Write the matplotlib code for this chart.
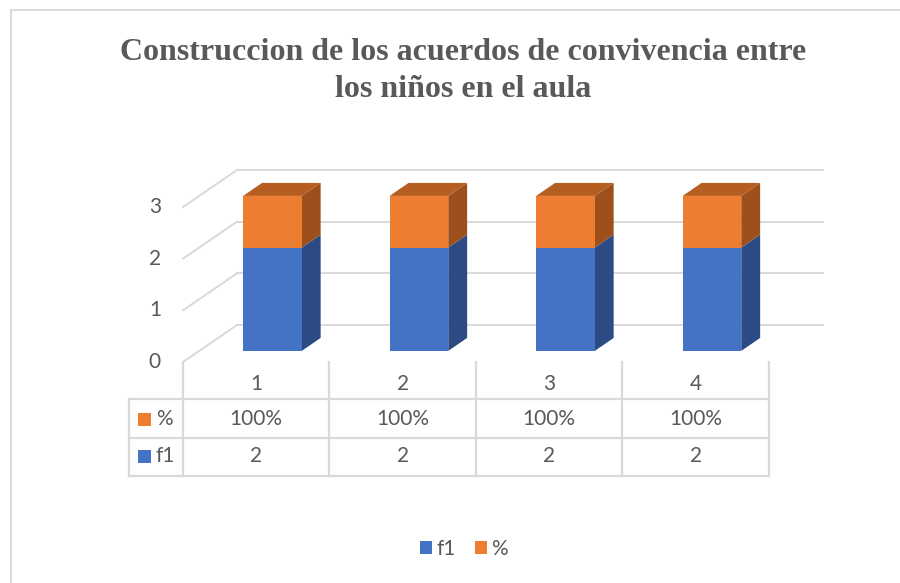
import matplotlib
matplotlib.use("Agg")
import matplotlib.pyplot as plt
from matplotlib.patches import Polygon, Rectangle, Patch

# ---- data ----
categories = ["1", "2", "3", "4"]
f1_values = [2, 2, 2, 2]
pct_values = [1, 1, 1, 1]
pct_labels = ["100%", "100%", "100%", "100%"]
series_names = ["f1", "%"]
y_ticks = [0, 1, 2, 3]
title = "Construccion de los acuerdos de convivencia entre\nlos niños en el aula"

# ---- style ----
BLUE, BLUE_SIDE, BLUE_TOP = "#4472C4", "#2C4B84", "#3A62AA"
ORANGE, ORANGE_SIDE, ORANGE_TOP = "#ED7D31", "#9E501C", "#B65E21"
GRID = "#D9D9D9"
TXT = "#595959"
FS = 15
plt.rcParams["font.family"] = ["Lato", "DejaVu Sans"]

W, H, DPI = 900, 583, 100
fig = plt.figure(figsize=(W / DPI, H / DPI), dpi=DPI)
ax = fig.add_axes([0, 0, 1, 1])
px_x = 146.5   # px per category
px_y = 51.67   # px per unit
x0_px, y0_px = 183, 362
ax.set_xlim(0.5 - x0_px / px_x, 0.5 + (W - x0_px) / px_x)
ax.set_ylim(-(H - y0_px) / px_y, y0_px / px_y)
ax.axis("off")

ox, oy = 54 / px_x, 37 / px_y
n = len(categories)
xl, xr = 0.5, n + 0.5

# chart area border
bx = 0.5 - x0_px / px_x + 11 / px_x
by = y0_px / px_y - 10 / px_y
ax.plot([bx, bx], [-5, by], color=GRID, lw=1.5, zorder=1)
ax.plot([bx, 6], [by, by], color=GRID, lw=1.5, zorder=1)

# back wall gridlines + left wall diagonals
for t in y_ticks:
    ax.plot([xl + ox, xr + ox], [t + oy, t + oy], color=GRID, lw=1.4, zorder=2)
    ax.plot([xl, xl + ox], [t, t + oy], color=GRID, lw=1.4, zorder=2)
    ax.text(xl - 22 / px_x, t, str(t), ha="right", va="center", fontsize=FS, color=TXT)

w = 0.2
z0, z1 = 0.30, 0.65


def box(xc, yb, yt, front, side, top, draw_top):
    fx = xc - w + z0 * ox
    fy = z0 * oy
    dx, dy = (z1 - z0) * ox, (z1 - z0) * oy
    ax.add_patch(Polygon([(fx + 2 * w, yb + fy), (fx + 2 * w + dx, yb + fy + dy),
                          (fx + 2 * w + dx, yt + fy + dy), (fx + 2 * w, yt + fy)],
                         closed=True, facecolor=side, edgecolor="none", zorder=5))
    ax.add_patch(Rectangle((fx, yb + fy), 2 * w, yt - yb, facecolor=front,
                           edgecolor="none", zorder=6))
    if draw_top:
        ax.add_patch(Polygon([(fx, yt + fy), (fx + 2 * w, yt + fy),
                              (fx + 2 * w + dx, yt + fy + dy), (fx + dx, yt + fy + dy)],
                             closed=True, facecolor=top, edgecolor="none", zorder=6))


for i in range(n):
    xc = i + 1
    box(xc, 0, f1_values[i], BLUE, BLUE_SIDE, BLUE_TOP, False)
    box(xc, f1_values[i], f1_values[i] + pct_values[i], ORANGE, ORANGE_SIDE, ORANGE_TOP, True)

# data table
r0 = 0
r1 = -(399 - y0_px) / px_y
r2 = -(437.5 - y0_px) / px_y
r3 = -(475.5 - y0_px) / px_y
xlab = xl - 54 / px_x
lw_t = 1.6
for k in range(n + 1):
    ax.plot([xl + k, xl + k], [r0, r3], color=GRID, lw=lw_t, zorder=2)
ax.plot([xlab, xlab], [r1, r3], color=GRID, lw=lw_t, zorder=2)
for r in (r1, r2, r3):
    ax.plot([xlab, xr], [r, r], color=GRID, lw=lw_t, zorder=2)

hy = -(384 - y0_px) / px_y
py = -(419 - y0_px) / px_y
fy_ = -(456.5 - y0_px) / px_y
for i in range(n):
    ax.text(i + 1, hy, categories[i], ha="center", va="center", fontsize=FS, color=TXT)
    ax.text(i + 1, py, pct_labels[i], ha="center", va="center", fontsize=FS, color=TXT)
    ax.text(i + 1, fy_, str(f1_values[i]), ha="center", va="center", fontsize=FS, color=TXT)

sq = 13
for yy, col, name in ((py, ORANGE, series_names[1]), (fy_, BLUE, series_names[0])):
    ax.add_patch(Rectangle((xlab + 9 / px_x, yy - sq / 2 / px_y), sq / px_x, sq / px_y,
                           facecolor=col, edgecolor="none", zorder=3))
    ax.text(xlab + 27 / px_x, yy, name, ha="left", va="center", fontsize=FS, color=TXT)

# title
fig.text(463 / W, 1 - 71 / H, title, ha="center", va="center", fontsize=23,
         fontweight="bold", family="Liberation Serif", color=TXT, linespacing=1.36)

# legend
handles = [Patch(facecolor=BLUE, edgecolor="none"), Patch(facecolor=ORANGE, edgecolor="none")]
fig.legend(handles, series_names, loc="center", bbox_to_anchor=(464 / W, 1 - 549 / H),
           ncol=2, frameon=False, fontsize=FS, labelcolor=TXT, handlelength=0.6,
           handleheight=0.6, handletextpad=0.2, columnspacing=0.9)

fig.savefig("out.png", dpi=DPI)
